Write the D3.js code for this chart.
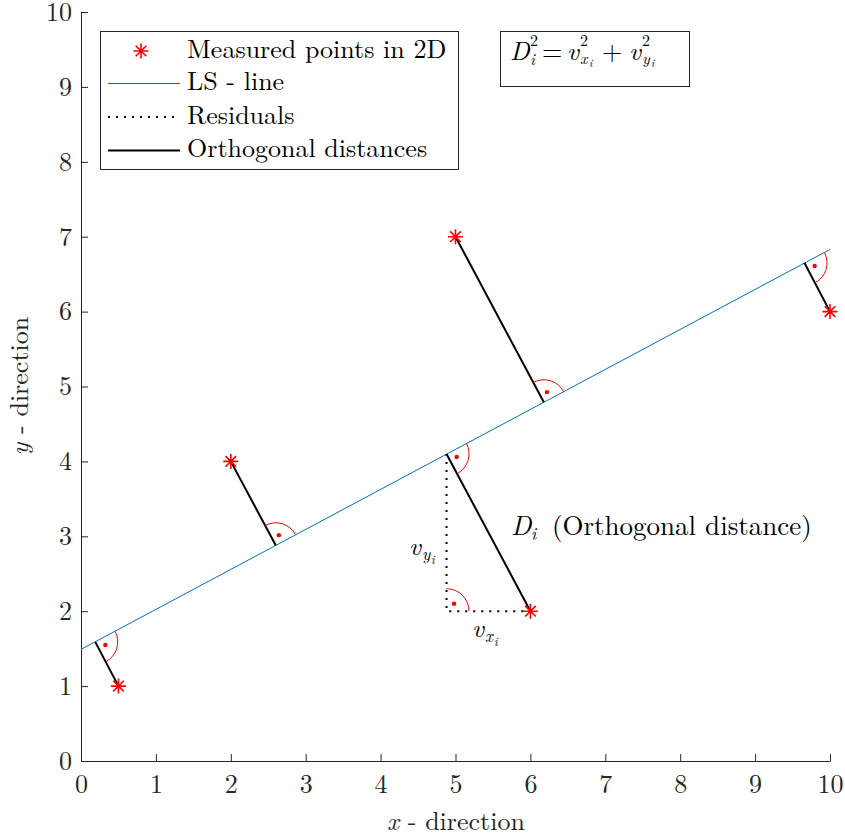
<!DOCTYPE html>
<html><head><meta charset="utf-8">
<script src="https://cdn.jsdelivr.net/npm/d3@7"></script>
<style>
body{margin:0;background:#fff;}
</style></head>
<body><svg id="c" width="845" height="837"></svg>
<script>
// ---- data ----
const pointX = [0.5, 2, 5, 6, 10];
const pointY = [1, 4, 7, 2, 6];
const lsX = [0, 10];
const lsY = [1.49, 6.83];
const footX = [0.19, 2.60, 6.18, 4.88, 9.66];
const footY = [1.59, 2.88, 4.79, 4.10, 6.65];
const resX = [4.88, 4.88, 6];
const resY = [4.10, 2, 2];
const xTicks = [0,1,2,3,4,5,6,7,8,9,10];
const yTicks = [0,1,2,3,4,5,6,7,8,9,10];
const legendLabels = ["Measured points in 2D","LS - line","Residuals","Orthogonal distances"];

const FONT = '"Latin Modern Roman","CMU Serif","Liberation Serif",serif';
const svg = d3.select("#c");
const x = d3.scaleLinear().domain([0,10]).range([81,830]);
const y = d3.scaleLinear().domain([0,10]).range([761,12]);
const axisColor = "#262626";
const FS = 26;

// axes
const xa = svg.append("g").attr("transform","translate(0,761)")
  .call(d3.axisBottom(x).tickValues(xTicks).tickSizeInner(-7).tickSizeOuter(0).tickPadding(14).tickFormat(d3.format("d")));
const ya = svg.append("g").attr("transform","translate(81,0)")
  .call(d3.axisLeft(y).tickValues(yTicks).tickSizeInner(-7).tickSizeOuter(0).tickPadding(9).tickFormat(d3.format("d")));
[xa,ya].forEach(g=>{
  g.attr("font-family",null).attr("font-size",null);
  g.select(".domain").attr("stroke",axisColor).attr("stroke-width",1);
  g.selectAll(".tick line").attr("stroke",axisColor);
  g.selectAll(".tick text").attr("fill",axisColor).style("font-size",FS+"px").style("font-family",FONT);
});

// LS line
const line = d3.line().x(d=>x(d[0])).y(d=>y(d[1]));
svg.append("path").attr("d", line(d3.zip(lsX,lsY))).attr("fill","none").attr("stroke","#0072BD").attr("stroke-width",1);

// residuals
svg.append("path").attr("d", line(d3.zip(resX,resY))).attr("fill","none")
  .attr("stroke","#000").attr("stroke-width",2).attr("stroke-dasharray","2 6");

// orthogonal distances
pointX.forEach((px,i)=>{
  svg.append("line").attr("x1",x(footX[i])).attr("y1",y(footY[i]))
    .attr("x2",x(px)).attr("y2",y(pointY[i])).attr("stroke","#000").attr("stroke-width",2);
});

// right angle markers
function rightAngle(cx,cy,ux,uy,vx,vy){
  const r = 22.5;
  const cross = ux*vy - uy*vx;
  const sweep = cross>0?1:0;
  svg.append("path").attr("d",`M${cx+r*ux},${cy+r*uy} A${r},${r} 0 0 ${sweep} ${cx+r*vx},${cy+r*vy}`)
    .attr("fill","none").attr("stroke","#ff0000").attr("stroke-width",1);
  svg.append("circle").attr("cx",cx+7.5*(ux+vx)).attr("cy",cy+7.5*(uy+vy)).attr("r",2.2).attr("fill","#ff0000");
}
const ldx = x(lsX[1])-x(lsX[0]), ldy = y(lsY[1])-y(lsY[0]);
const ln = Math.hypot(ldx,ldy);
pointX.forEach((px,i)=>{
  const cx = x(footX[i]), cy = y(footY[i]);
  const vx = x(px)-cx, vy = y(pointY[i])-cy, vn = Math.hypot(vx,vy);
  rightAngle(cx,cy,ldx/ln,ldy/ln,vx/vn,vy/vn);
});
// corner of residual triangle
rightAngle(x(resX[1]),y(resY[1]),0,-1,1,0);

// asterisk markers
function asterisk(g,cx,cy){
  const s=7.5, d=5.3;
  const p = `M${cx-s},${cy}L${cx+s},${cy}M${cx},${cy-s}L${cx},${cy+s}M${cx-d},${cy-d}L${cx+d},${cy+d}M${cx-d},${cy+d}L${cx+d},${cy-d}`;
  g.append("path").attr("d",p).attr("stroke","#ff0000").attr("stroke-width",1.6).attr("fill","none");
}
pointX.forEach((px,i)=>asterisk(svg,x(px),y(pointY[i])));

function txt(g,xp,yp,opt={}){
  return g.append("text").attr("x",xp).attr("y",yp)
    .style("font-family",FONT).style("font-size",(opt.fs||FS)+"px")
    .style("font-style",opt.it?"italic":"normal").attr("fill",opt.fill||"#000");
}
// one text element built of absolutely placed pieces: [x, y, string, fontSize, italic]
function mathText(parts){
  const el = svg.append("text").style("font-family",FONT).attr("fill","#000");
  parts.forEach(([px,py,s,fs,it])=>{
    el.append("tspan").attr("x",px).attr("y",py).style("font-size",fs+"px")
      .style("font-style",it?"italic":"normal").text(s);
  });
  return el;
}

// axis labels
txt(svg,456,830,{fill:axisColor}).attr("text-anchor","middle")
  .call(t=>{t.append("tspan").style("font-style","italic").text("x");t.append("tspan").text(" - direction");});
txt(svg,0,0,{fill:axisColor}).attr("transform","translate(28,386) rotate(-90)").attr("text-anchor","middle")
  .call(t=>{t.append("tspan").style("font-style","italic").text("y");t.append("tspan").text(" - direction");});

// legend
const lg = svg.append("g");
lg.append("rect").attr("x",100.5).attr("y",31.5).attr("width",358).attr("height",138).attr("fill","#fff").attr("stroke",axisColor).attr("stroke-width",1);
const rowY = [51, 83.5, 117, 150.5];
asterisk(lg,141,rowY[0]);
lg.append("line").attr("x1",108).attr("x2",180).attr("y1",rowY[1]).attr("y2",rowY[1]).attr("stroke","#0072BD");
lg.append("line").attr("x1",108).attr("x2",180).attr("y1",rowY[2]).attr("y2",rowY[2]).attr("stroke","#000").attr("stroke-width",2).attr("stroke-dasharray","2 6");
lg.append("line").attr("x1",108).attr("x2",180).attr("y1",rowY[3]).attr("y2",rowY[3]).attr("stroke","#000").attr("stroke-width",2);
legendLabels.forEach((l,i)=>{
  txt(lg,187,rowY[i]+6.5).text(l);
});

// equation box
svg.append("rect").attr("x",500.5).attr("y",31.5).attr("width",189).attr("height",55).attr("fill","#fff").attr("stroke",axisColor);
mathText([
  [510,60,"D",FS,1],[530,46,"2",16,0],[530,65,"i",16,1],
  [542,60,"=",FS,0],
  [567,60,"v",FS,1],[580,46,"2",16,0],[580,64,"x",16,1],[589,67,"i",11,1],
  [602,60,"+",FS,0],
  [629,60,"v",FS,1],[642,46,"2",16,0],[642,64,"y",16,1],[651,67,"i",11,1]
]);

// annotations
mathText([[511,535,"D",27,1],[531,540,"i",17,1],[552,535,"(Orthogonal distance)",27,0]]);
mathText([[409,555,"v",FS,1],[422,560,"y",17,1],[431,564,"i",12,1]]);
mathText([[472,637,"v",FS,1],[485,642,"x",17,1],[494,646,"i",12,1]]);
</script></body></html>
